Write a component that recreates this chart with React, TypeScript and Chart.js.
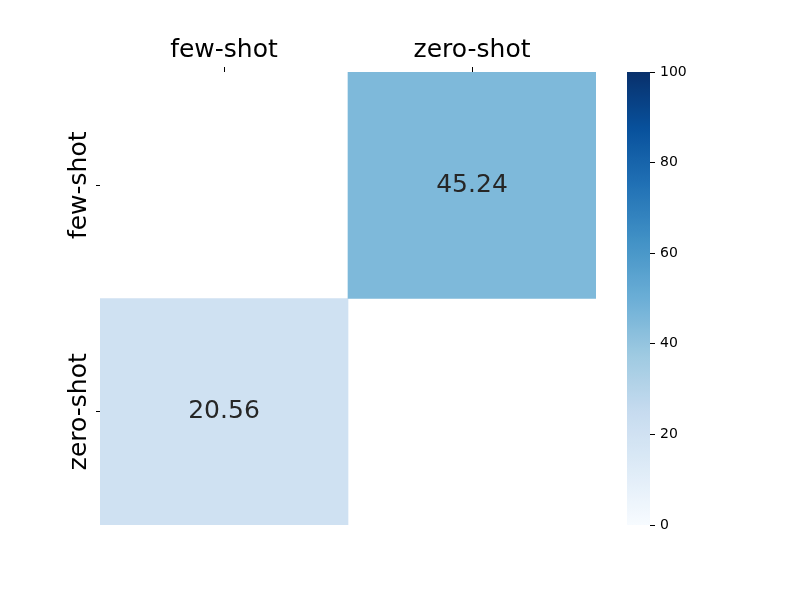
import React, { useEffect, useRef } from "react";
import { Chart, registerables } from "chart.js";

Chart.register(...registerables);

const xLabels = ["few-shot", "zero-shot"];
const yLabels = ["few-shot", "zero-shot"];
const rowFewShot: (number | null)[] = [null, 45.24];
const rowZeroShot: (number | null)[] = [20.56, null];
const colorbarTicks = [0, 20, 40, 60, 80, 100];
const vmin = 0;
const vmax = 100;

// matplotlib "Blues" colormap anchor colours
const bluesStops = ["#f7fbff", "#deebf7", "#c6dbef", "#9ecae1", "#6baed6", "#4292c6", "#2171b5", "#08519c", "#08306b"];

function hexToRgb(h: string): number[] {
  return [parseInt(h.slice(1, 3), 16), parseInt(h.slice(3, 5), 16), parseInt(h.slice(5, 7), 16)];
}

function blues(t: number): string {
  const c = Math.max(0, Math.min(1, t)) * (bluesStops.length - 1);
  const i = Math.min(bluesStops.length - 2, Math.floor(c));
  const f = c - i;
  const a = hexToRgb(bluesStops[i]);
  const b = hexToRgb(bluesStops[i + 1]);
  const r = a.map((v, k) => Math.round(v + (b[k] - v) * f));
  return `rgb(${r[0]},${r[1]},${r[2]})`;
}

const FONT = "'DejaVu Sans', sans-serif";

export default function App() {
  const mainRef = useRef<HTMLCanvasElement | null>(null);
  const cbarRef = useRef<HTMLCanvasElement | null>(null);

  useEffect(() => {
    const rows = [rowFewShot, rowZeroShot];
    const datasets = rows.map((vals, i) => ({
      label: yLabels[i],
      data: vals.map((v) => (v == null ? null : [i, i + 1])) as any,
      values: vals,
      backgroundColor: vals.map((v) => (v == null ? "rgba(0,0,0,0)" : blues((v - vmin) / (vmax - vmin)))),
      borderWidth: 0,
      barPercentage: 1,
      categoryPercentage: 1,
      grouped: false,
    }));

    const annotate = {
      id: "annotate",
      afterDatasetsDraw(chart: any) {
        const ctx = chart.ctx;
        ctx.save();
        ctx.font = `25px ${FONT}`;
        ctx.fillStyle = "#262626";
        ctx.textAlign = "center";
        ctx.textBaseline = "middle";
        chart.data.datasets.forEach((ds: any, di: number) => {
          const meta = chart.getDatasetMeta(di);
          meta.data.forEach((el: any, j: number) => {
            const v = ds.values[j];
            if (v == null) return;
            const cy = (el.y + el.base) / 2;
            ctx.fillText(v.toFixed(2), el.x, cy);
          });
        });
        ctx.restore();
      },
      afterDraw(chart: any) {
        const ctx = chart.ctx;
        const ys = chart.scales.y;
        ctx.save();
        ctx.font = `25px ${FONT}`;
        ctx.fillStyle = "#000";
        ctx.textAlign = "center";
        ctx.textBaseline = "alphabetic";
        yLabels.forEach((lab, i) => {
          const py = ys.getPixelForValue(i + 0.5);
          ctx.save();
          ctx.translate(86, py);
          ctx.rotate(-Math.PI / 2);
          ctx.fillText(lab, 0, 0);
          ctx.restore();
        });
        ctx.restore();
      },
    };

    const main = new Chart(mainRef.current as HTMLCanvasElement, {
      type: "bar",
      data: { labels: xLabels, datasets: datasets as any },
      options: {
        animation: false,
        responsive: false,
        events: [],
        layout: { padding: { top: 0, left: 0, right: 204, bottom: 75 } },
        plugins: { legend: { display: false }, tooltip: { enabled: false } },
        scales: {
          x: {
            type: "category",
            position: "top",
            offset: true,
            border: { display: false },
            grid: { offset: false, drawOnChartArea: false, drawTicks: true, tickLength: 5, tickWidth: 1, tickColor: "#000" },
            ticks: { color: "#000", font: { family: FONT, size: 25 }, padding: 2, maxRotation: 0, minRotation: 0 },
            afterFit: (s: any) => {
              s.height = 72;
            },
          },
          y: {
            type: "linear",
            min: 0,
            max: rows.length,
            reverse: true,
            border: { display: false },
            grid: { drawOnChartArea: false, drawTicks: true, tickLength: 4, tickWidth: 1, tickColor: "#000" },
            ticks: { callback: () => "", padding: 0 },
            afterBuildTicks: (s: any) => {
              s.ticks = yLabels.map((_, i) => ({ value: i + 0.5 }));
            },
            afterFit: (s: any) => {
              s.width = 100;
            },
          },
        },
      },
      plugins: [annotate],
    } as any);

    const gradientPlugin = {
      id: "cbarGradient",
      beforeDatasetsDraw(chart: any) {
        const { ctx, chartArea } = chart;
        const g = ctx.createLinearGradient(0, chartArea.bottom, 0, chartArea.top);
        for (let k = 0; k <= 100; k++) g.addColorStop(k / 100, blues(k / 100));
        ctx.save();
        ctx.fillStyle = g;
        ctx.fillRect(chartArea.left, chartArea.top, chartArea.right - chartArea.left, chartArea.bottom - chartArea.top);
        ctx.restore();
      },
    };

    const cbar = new Chart(cbarRef.current as HTMLCanvasElement, {
      type: "scatter",
      data: { datasets: [{ data: [], pointRadius: 0 }] },
      options: {
        animation: false,
        responsive: false,
        events: [],
        layout: { padding: { top: 72, left: 627, right: 0, bottom: 75 } },
        plugins: { legend: { display: false }, tooltip: { enabled: false } },
        scales: {
          x: { display: false, min: 0, max: 1 },
          y: {
            position: "right",
            min: vmin,
            max: vmax,
            border: { display: false },
            grid: { drawOnChartArea: false, drawTicks: true, tickLength: 5, tickWidth: 1, tickColor: "#000" },
            ticks: { color: "#000", font: { family: FONT, size: 14 }, padding: 5 },
            afterBuildTicks: (s: any) => {
              s.ticks = colorbarTicks.map((v) => ({ value: v }));
            },
            afterFit: (s: any) => {
              s.width = 150;
            },
          },
        },
      },
      plugins: [gradientPlugin],
    } as any);

    return () => {
      main.destroy();
      cbar.destroy();
    };
  }, []);

  return (
    <div style={{ position: "fixed", left: 0, top: 0, width: 800, height: 600, background: "#fff" }}>
      <canvas ref={cbarRef} width={800} height={600} style={{ position: "absolute", left: 0, top: 0, width: 800, height: 600 }} />
      <canvas ref={mainRef} width={800} height={600} style={{ position: "absolute", left: 0, top: 0, width: 800, height: 600 }} />
    </div>
  );
}
